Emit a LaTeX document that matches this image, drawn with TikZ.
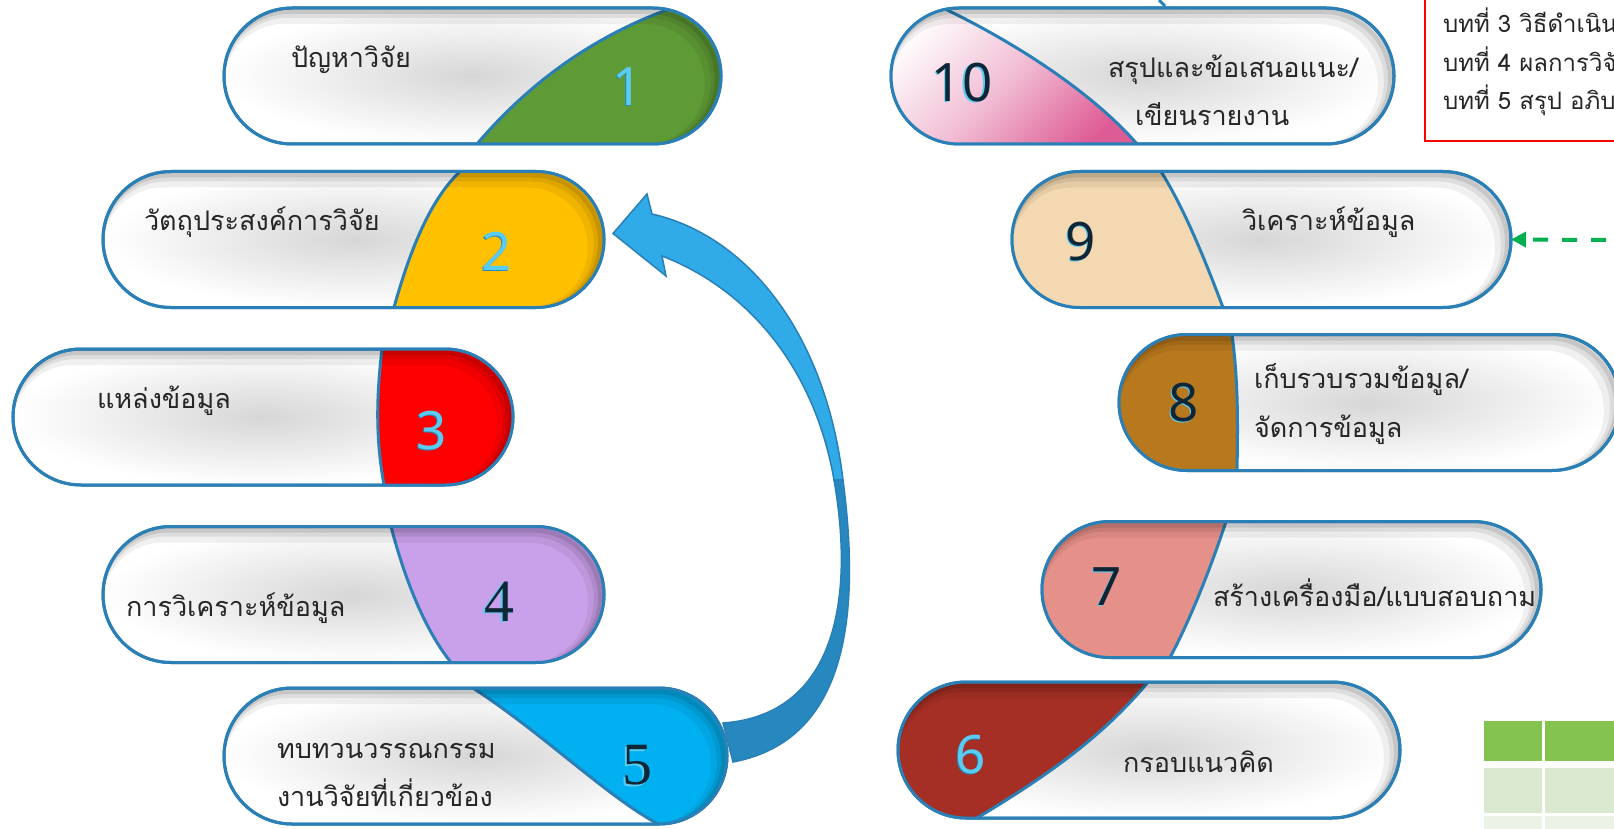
\documentclass[tikz,border=0pt]{standalone}
\usepackage{fontspec}
\usepackage{tikz}
\usetikzlibrary{positioning,arrows.meta,calc}
\newfontfamily\thaifont[Script=Thai]{Loma}
\newfontfamily\numfont{Noto Sans}
\newfontfamily\numserif{Liberation Serif}
\definecolor{rimblue}{HTML}{2A80B6}
\definecolor{c1}{HTML}{5E9A35}
\definecolor{c2}{HTML}{FFC000}
\definecolor{c3}{HTML}{FF0000}
\definecolor{c4}{HTML}{C9A0EA}
\definecolor{c5}{HTML}{00B0F0}
\definecolor{c6}{HTML}{A52F24}
\definecolor{c7}{HTML}{E59088}
\definecolor{c8}{HTML}{B8781D}
\definecolor{c9}{HTML}{F3D8B1}
\definecolor{c10}{HTML}{DE5C95}
\definecolor{numcyan}{HTML}{58CCF2}
\definecolor{numnavy}{HTML}{0E2636}
\definecolor{arrowlight}{HTML}{31AAE8}
\definecolor{arrowdark}{HTML}{2787BF}
\definecolor{dashgreen}{HTML}{00B050}
\definecolor{tabhead}{HTML}{84C350}
\definecolor{tabrow}{HTML}{DAE8D0}
\definecolor{tabrowb}{HTML}{EBF3E6}
\newcommand{\halo}[2]{\rlap{\hspace{-1.5pt}\raisebox{-1.5pt}{\textcolor{#1}{#2}}}#2}
\begin{document}
\begin{tikzpicture}
                    [
                        x=1pt, y=-1pt,
                        every node/.style={inner sep=0pt, outer sep=0pt},
                        pill/.style={draw=rimblue, line width=3pt, rounded corners=68pt, minimum height=136pt, inner color=black!16, outer color=white},
                        divider/.style={draw=rimblue, line width=3pt},
                        rimline/.style={draw=rimblue, line width=3pt, rounded corners=68pt},
                        thai/.style={font=\thaifont\fontsize{27}{32}\selectfont, text=black!85, anchor=base west},
                        boxtext/.style={font=\thaifont\fontsize{24}{28}\selectfont, text=black!85, anchor=base west},
                        numlight/.style={font=\numfont\fontsize{53}{53}\selectfont, text=numcyan},
                        numdark/.style={font=\numfont\fontsize{53}{53}\selectfont, text=numnavy},
                        numserif/.style={font=\numserif\fontsize{60}{60}\selectfont, text=numnavy}
                    ]
                    
                    % Rahmen
                    \useasboundingbox (0,0) rectangle (1614,829);
                    \clip (0,0) rectangle (1614,829);
                    
                    % Kapseln
                    \node[pill, minimum width=497pt] (p1) at (472.5,76) {};
                    \node[pill, minimum width=501pt] (p2) at (353.5,239.5) {};
                    \node[pill, minimum width=500pt] (p3) at (263,417) {};
                    \node[pill, minimum width=501pt] (p4) at (353.5,594.5) {};
                    \node[pill, minimum width=503pt] (p5) at (475.5,756) {};
                    \node[pill, minimum width=502pt] (p6) at (1149,750) {};
                    \node[pill, minimum width=499pt] (p7) at (1291.5,589.5) {};
                    \node[pill, minimum width=501pt] (p8) at (1369.5,402.5) {};
                    \node[pill, minimum width=499pt] (p9) at (1261.5,239.5) {};
                    \node[pill, minimum width=503pt] (p10) at (1142.5,76) {};
                    
                    % Farbflaechen
                    \begin{scope}
                        \clip[rounded corners=68pt] (p1.south west) rectangle (p1.north east);
                        \fill[c1] (477,144) .. controls (540,70) and (610,30) .. (672,8) -- (760,0) -- (760,160) -- (470,160) -- cycle;
                        \draw[divider] (477,144) .. controls (540,70) and (610,30) .. (672,8);
                    \end{scope}
                    \begin{scope}
                        \clip[rounded corners=68pt] (p2.south west) rectangle (p2.north east);
                        \fill[c2] (394,307.5) .. controls (410,250) and (430,200) .. (460,171.5) -- (460,160) -- (620,160) -- (620,320) -- (394,320) -- cycle;
                        \draw[divider] (394,307.5) .. controls (410,250) and (430,200) .. (460,171.5);
                    \end{scope}
                    \begin{scope}
                        \clip[rounded corners=68pt] (p3.south west) rectangle (p3.north east);
                        \fill[c3] (382,349) .. controls (376,400) and (376,440) .. (384,485) -- (384,500) -- (530,500) -- (530,340) -- (382,340) -- cycle;
                        \draw[divider] (382,349) .. controls (376,400) and (376,440) .. (384,485);
                    \end{scope}
                    \begin{scope}
                        \clip[rounded corners=68pt] (p4.south west) rectangle (p4.north east);
                        \fill[c4] (391,526.5) .. controls (405,580) and (425,630) .. (451,662.5) -- (451,675) -- (620,675) -- (620,515) -- (391,515) -- cycle;
                        \draw[divider] (391,526.5) .. controls (405,580) and (425,630) .. (451,662.5);
                    \end{scope}
                    \begin{scope}
                        \clip[rounded corners=68pt] (p5.south west) rectangle (p5.north east);
                        \fill[c5] (473,688) .. controls (545,735) and (605,795) .. (658,824) -- (750,830) -- (750,680) -- (473,680) -- cycle;
                        \draw[divider] (473,688) .. controls (545,735) and (605,795) .. (658,824);
                    \end{scope}
                    \begin{scope}
                        \clip[rounded corners=68pt] (p6.south west) rectangle (p6.north east);
                        \fill[c6] (977,818) .. controls (1040,780) and (1100,740) .. (1148,682) -- (1148,670) -- (890,670) -- (890,830) -- (977,830) -- cycle;
                        \draw[divider] (977,818) .. controls (1040,780) and (1100,740) .. (1148,682);
                    \end{scope}
                    \begin{scope}
                        \clip[rounded corners=68pt] (p7.south west) rectangle (p7.north east);
                        \fill[c7] (1226,521.5) .. controls (1210,570) and (1190,620) .. (1170,657.5) -- (1170,670) -- (1030,670) -- (1030,510) -- (1226,510) -- cycle;
                        \draw[divider] (1226,521.5) .. controls (1210,570) and (1190,620) .. (1170,657.5);
                    \end{scope}
                    \begin{scope}
                        \clip[rounded corners=68pt] (p8.south west) rectangle (p8.north east);
                        \fill[c8] (1232,334.5) .. controls (1238,380) and (1238,420) .. (1237,470.5) -- (1237,480) -- (1110,480) -- (1110,325) -- (1232,325) -- cycle;
                        \draw[divider] (1232,334.5) .. controls (1238,380) and (1238,420) .. (1237,470.5);
                    \end{scope}
                    \begin{scope}
                        \clip[rounded corners=68pt] (p9.south west) rectangle (p9.north east);
                        \fill[c9] (1161,171.5) .. controls (1185,210) and (1205,260) .. (1223,307.5) -- (1223,320) -- (1000,320) -- (1000,160) -- (1161,160) -- cycle;
                        \draw[divider] (1161,171.5) .. controls (1185,210) and (1205,260) .. (1223,307.5);
                    \end{scope}
                    \begin{scope}
                        \clip[rounded corners=68pt] (p10.south west) rectangle (p10.north east);
                        \shade[top color=white, bottom color=c10, middle color=c10!40, shading angle=45] (943,8) .. controls (1010,40) and (1090,90) .. (1137,144) -- (1137,155) -- (880,155) -- (880,0) -- (943,0) -- cycle;
                        \draw[divider] (943,8) .. controls (1010,40) and (1090,90) .. (1137,144);
                    \end{scope}
                    
                    % Innenschatten und Rand
                    \foreach \p in {p1,p2,p3,p4,p5,p6,p7,p8,p9,p10}{
                        \begin{scope}
                            \clip[rounded corners=68pt] (\p.south west) rectangle (\p.north east);
                            \draw[black, opacity=.06, line width=16pt, rounded corners=68pt] ([shift={(-8,8)}]\p.south west) rectangle ([shift={(-8,8)}]\p.north east);
                            \draw[black, opacity=.08, line width=10pt, rounded corners=68pt] ([shift={(-5,5)}]\p.south west) rectangle ([shift={(-5,5)}]\p.north east);
                            \draw[black, opacity=.10, line width=6pt, rounded corners=68pt] ([shift={(-3,3)}]\p.south west) rectangle ([shift={(-3,3)}]\p.north east);
                        \end{scope}
                        \draw[rimline] (\p.south west) rectangle (\p.north east);
                    }
                    
                    % Texte
                    \node[thai] (t1) at (291,68) {ปัญหาวิจัย};
                    \node[thai] (t2) at (144,230) {วัตถุประสงค์การวิจัย};
                    \node[thai] (t3) at (97,408) {แหล่งข้อมูล};
                    \node[thai] (t4) at (126,616) {การวิเคราะห์ข้อมูล};
                    \node[thai] (t5a) at (277,758) {ทบทวนวรรณกรรม};
                    \node[thai] (t5b) at (277,806) {งานวิจัยที่เกี่ยวข้อง};
                    \node[thai] (t6) at (1123,772) {กรอบแนวคิด};
                    \node[thai] (t7) at (1213,606) {สร้างเครื่องมือ/แบบสอบถาม};
                    \node[thai] (t8a) at (1254,388) {เก็บรวบรวมข้อมูล/};
                    \node[thai] (t8b) at (1254,437) {จัดการข้อมูล};
                    \node[thai] (t9) at (1242,230) {วิเคราะห์ข้อมูล};
                    \node[thai] (t10a) at (1108,78) {สรุปและข้อเสนอแนะ/};
                    \node[thai] (t10b) at (1135,126) {เขียนรายงาน};
                    
                    % Nummern
                    \node[numlight] (n1) at (628,87) {\halo{arrowdark}{1}};
                    \node[numlight] (n2) at (497,252) {\halo{arrowdark}{2}};
                    \node[numlight] (n3) at (432,431) {\halo{arrowdark}{3}};
                    \node[numserif] (n4) at (499,602) {\halo{numcyan}{4}};
                    \node[numserif] (n5) at (637,766) {\halo{numcyan}{5}};
                    \node[numlight] (n6) at (971,755) {\halo{arrowdark}{6}};
                    \node[numdark] (n7) at (1107,587) {\halo{numcyan}{7}};
                    \node[numdark] (n8) at (1184,403) {\halo{numcyan}{8}};
                    \node[numdark] (n9) at (1081,242) {\halo{numcyan}{9}};
                    \node[numdark] (n10) at (962,83) {\halo{numcyan}{10}};
                    
                    % Pfeil 5 nach 2
                    \coordinate (tip) at ([shift={(9,-6)}]p2.east);
                    \coordinate (tailtop) at ([shift={(-4,-33)}]p5.east);
                    \coordinate (tailbot) at ([shift={(6,6)}]p5.east);
                    \draw[draw=rimblue, line width=1.5pt, fill=arrowlight] (tip) -- (647,194) -- (652,214) .. controls (745,235) and (825,330) .. (843,480) -- (834,480) .. controls (815,370) and (750,290) .. (662,256) -- (666,276) -- cycle;
                    \draw[draw=rimblue, line width=1.5pt, fill=arrowdark] (843,480) .. controls (860,610) and (850,740) .. (tailbot) -- (tailtop) .. controls (835,715) and (855,600) .. (834,480) -- cycle;
                    \draw[draw=rimblue, line width=3pt] (1159,0) -- (1165,6);
                    
                    % Kasten oben rechts
                    \draw[red, line width=2pt] (1425,-10) rectangle (1700,141);
                    \node[boxtext] (b3) at (1443,33) {บทที่ 3 วิธีดำเนิน};
                    \node[boxtext] (b4) at (1443,72) {บทที่ 4 ผลการวิจัย};
                    \node[boxtext] (b5) at (1443,110) {บทที่ 5 สรุป อภิบ};
                    
                    % gestrichelter Pfeil
                    \coordinate (g9) at (1614,240);
                    \draw[dashgreen, line width=4pt, dash pattern=on 15pt off 14pt, dash phase=21pt, -{Triangle[length=15pt, width=15pt]}] (g9) -- (p9.east);
                    
                    % Tabelle
                    \fill[tabhead] (1484,721) rectangle (1542,761);
                    \fill[tabhead] (1545,721) rectangle (1620,761);
                    \fill[tabrow] (1484,768) rectangle (1542,813);
                    \fill[tabrow] (1545,768) rectangle (1620,813);
                    \fill[tabrowb] (1484,816) rectangle (1542,835);
                    \fill[tabrowb] (1545,816) rectangle (1620,835);
                \end{tikzpicture}
\end{document}
